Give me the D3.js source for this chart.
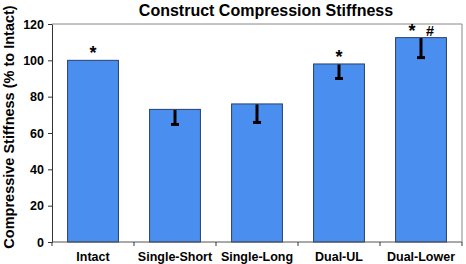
<!DOCTYPE html>
<html>
<head>
<meta charset="utf-8">
<script src="https://cdn.jsdelivr.net/npm/d3@7"></script>
<style>
  html, body { margin: 0; padding: 0; background: #fff; }
  svg { display: block; font-family: 'Liberation Sans', Arial, sans-serif; }
</style>
</head>
<body>
<div id="chart"></div>
<script>
const categories = ['Intact', 'Single-Short', 'Single-Long', 'Dual-UL', 'Dual-Lower']
const values = [100, 73, 76, 98, 112.5]
const errorsMinus = [0, 8.3, 10.2, 8, 11]
const marks = [['*'], [], [], ['*'], ['*', '#']]
const yTicks = [0, 20, 40, 60, 80, 100, 120]

const width = 466
const height = 264
const margin = { top: 24, right: 4, bottom: 22, left: 52 }

const svg = d3.select('#chart').append('svg')
  .attr('width', width)
  .attr('height', height)

const x = d3.scaleBand()
  .domain(categories)
  .range([margin.left, width - margin.right])
  .paddingInner(0.38)
  .paddingOuter(0.19)

const y = d3.scaleLinear()
  .domain([0, 120])
  .range([height - margin.bottom, margin.top])

// frame (top and right)
svg.append('path')
  .attr('d', `M${margin.left},${y(120)}H${width - margin.right}V${y(0)}`)
  .attr('fill', 'none')
  .attr('stroke', '#888')
  .attr('stroke-width', 1)

svg.append('g')
  .selectAll('rect')
  .data(categories)
  .join('rect')
  .attr('x', (d) => x(d))
  .attr('y', (d, i) => y(values[i]))
  .attr('width', x.bandwidth())
  .attr('height', (d, i) => y(0) - y(values[i]))
  .attr('fill', '#4a8ff0')
  .attr('stroke', '#26416a')
  .attr('stroke-width', 1)

// error bars (minus only)
const eb = svg.append('g').attr('stroke', '#000').attr('stroke-width', 3)
categories.forEach((c, i) => {
  if (!errorsMinus[i]) return
  const cx = x(c) + x.bandwidth() / 2
  eb.append('line')
    .attr('x1', cx).attr('x2', cx)
    .attr('y1', y(values[i]) + 0.5)
    .attr('y2', y(values[i] - errorsMinus[i]))
  eb.append('line')
    .attr('x1', cx - 4).attr('x2', cx + 4)
    .attr('y1', y(values[i] - errorsMinus[i]))
    .attr('y2', y(values[i] - errorsMinus[i]))
})

// significance marks
categories.forEach((c, i) => {
  const cx = x(c) + x.bandwidth() / 2
  const n = marks[i].length
  marks[i].forEach((m, j) => {
    svg.append('text')
      .attr('x', cx + (j - (n - 1) / 2) * 18)
      .attr('y', y(values[i]) - (m === '*' ? 1 : 2))
      .attr('text-anchor', 'middle')
      .attr('font-weight', 'bold')
      .attr('font-size', m === '*' ? 18 : 14.5)
      .text(m)
  })
})

// y axis
const yAxis = svg.append('g')
  .attr('transform', `translate(${margin.left},0)`)
  .call(d3.axisLeft(y).tickValues(yTicks).tickSize(4).tickSizeOuter(0))
yAxis.select('.domain').attr('stroke', '#333')
yAxis.selectAll('.tick line').attr('stroke', '#333')
yAxis.selectAll('text')
  .attr('font-size', 12.5)
  .attr('font-weight', 'bold')
  .attr('fill', '#000')
  .attr('font-family', 'Liberation Sans, Arial, sans-serif')
  .attr('x', -8)

// x axis with ticks at category boundaries
const xAxis = svg.append('g').attr('transform', `translate(0,${y(0)})`)
xAxis.append('line')
  .attr('x1', margin.left).attr('x2', width - margin.right)
  .attr('stroke', '#555')
const step = x.step()
d3.range(categories.length + 1).forEach((k) => {
  const tx = margin.left + k * step
  xAxis.append('line')
    .attr('x1', tx).attr('x2', tx)
    .attr('y1', 0).attr('y2', 4)
    .attr('stroke', '#333')
})
xAxis.selectAll('text.cat')
  .data(categories)
  .join('text')
  .attr('class', 'cat')
  .attr('x', (d) => x(d) + x.bandwidth() / 2)
  .attr('y', 18.5)
  .attr('text-anchor', 'middle')
  .attr('font-size', 12.5)
  .attr('font-weight', 'bold')
  .text((d) => d)

// title
svg.append('text')
  .attr('x', 266)
  .attr('y', 16)
  .attr('text-anchor', 'middle')
  .attr('font-size', 16)
  .attr('font-weight', 'bold')
  .text('Construct Compression Stiffness')

// y label
svg.append('text')
  .attr('transform', `translate(14,127) rotate(-90)`)
  .attr('text-anchor', 'middle')
  .attr('font-size', 14.5)
  .attr('font-weight', 'bold')
  .text('Compressive Stiffness (% to Intact)')
</script>
</body>
</html>
